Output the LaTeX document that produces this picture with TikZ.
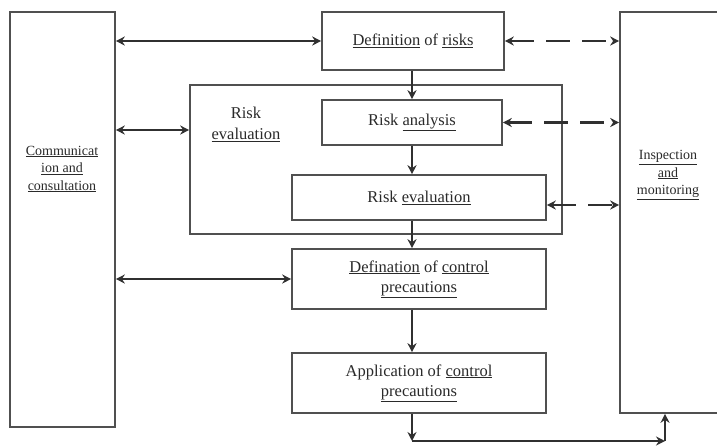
\documentclass[tikz,border=0pt]{standalone}
\usepackage{fontspec}
\setmainfont{Liberation Serif}
\usetikzlibrary{arrows.meta}
\definecolor{boxline}{HTML}{505050}
\definecolor{arrline}{HTML}{303030}
\definecolor{txt}{HTML}{2A2A2A}
\begin{document}
\begin{tikzpicture}[x=1pt,y=-1pt,
  boxstyle/.style={draw=boxline,line width=1.6pt,fill=white,inner sep=0pt,align=center,text=txt,
     font=\fontsize{16.5}{20}\selectfont},
  sidetext/.style={align=center,text=txt,inner sep=0pt,font=\fontsize{14}{17.5}\selectfont},
  flowarrow/.style={draw=arrline,line width=2.8pt,-{Stealth[length=9pt,width=9pt]}},
  biarrow/.style={draw=arrline,line width=2.8pt,{Stealth[length=9pt,width=9pt]}-{Stealth[length=9pt,width=9pt]}},
  dasharrow/.style={biarrow,dash pattern=on 24pt off 12pt}]
\useasboundingbox (0,0) rectangle (717,445);
\clip (0,0) rectangle (717,445);
% boxes
\node[boxstyle,minimum width=105pt,minimum height=415pt] (comm) at (62.5,219.5) {};
\node[sidetext] (commtxt) at (62,169) {\underline{Communicat}\\\underline{ion and}\\\underline{consultation}};
\node[boxstyle,minimum width=130pt,minimum height=401pt] (insp) at (685,212.5) {};
\node[sidetext] (insptxt) at (668,175) {\underline{Inspection}\\\underline{and}\\\underline{monitoring}};
\node[boxstyle,minimum width=182pt,minimum height=58pt] (defrisks) at (413,41) {\underline{Definition} of \underline{risks}};
\node[boxstyle,minimum width=372pt,minimum height=149pt] (cont) at (376,159.5) {};
\node[align=center,text=txt,inner sep=0pt,font=\fontsize{16.5}{21}\selectfont] (contlbl) at (246,124) {Risk\\\underline{evaluation}};
\node[boxstyle,minimum width=180pt,minimum height=45pt] (analysis) at (412,122.5) {Risk \underline{analysis}};
\node[boxstyle,minimum width=254pt,minimum height=45pt] (evaluation) at (419,197.5) {Risk \underline{evaluation}};
\node[boxstyle,minimum width=254pt,minimum height=60pt] (defcontrol) at (419,279) {\underline{Defination} of \underline{control}\\\underline{precautions}};
\node[boxstyle,minimum width=254pt,minimum height=60pt] (application) at (419,383) {Application of \underline{control}\\\underline{precautions}};
% coordinates
\coordinate (y130) at (0,130);
\coordinate (y205) at (0,205);
\coordinate (cb) at (412,441);
\coordinate (cbr) at (665,441);
% vertical flow
\draw[flowarrow] (defrisks.south -| analysis.south) -- (analysis.north);
\draw[flowarrow] (analysis.south) -- (analysis.south |- evaluation.north);
\draw[flowarrow] (analysis.south |- evaluation.south) -- (analysis.south |- defcontrol.north);
\draw[flowarrow] (analysis.south |- defcontrol.south) -- (analysis.south |- application.north);
\draw[flowarrow] (analysis.south |- application.south) -- (cb);
\draw[flowarrow] (cb) -- (cbr);
\draw[flowarrow] (cbr) -- (cbr |- insp.south);
% left connections
\draw[biarrow] (comm.east |- defrisks.west) -- (defrisks.west);
\draw[biarrow] (comm.east |- y130) -- (cont.west |- y130);
\draw[biarrow] (comm.east |- defcontrol.west) -- (defcontrol.west);
% right dashed connections
\draw[dasharrow] (defrisks.east) -- (insp.west |- defrisks.east);
\draw[dasharrow] (analysis.east) -- (insp.west |- analysis.east);
\draw[dasharrow] (evaluation.east |- y205) -- (insp.west |- y205);
\end{tikzpicture}
\end{document}
